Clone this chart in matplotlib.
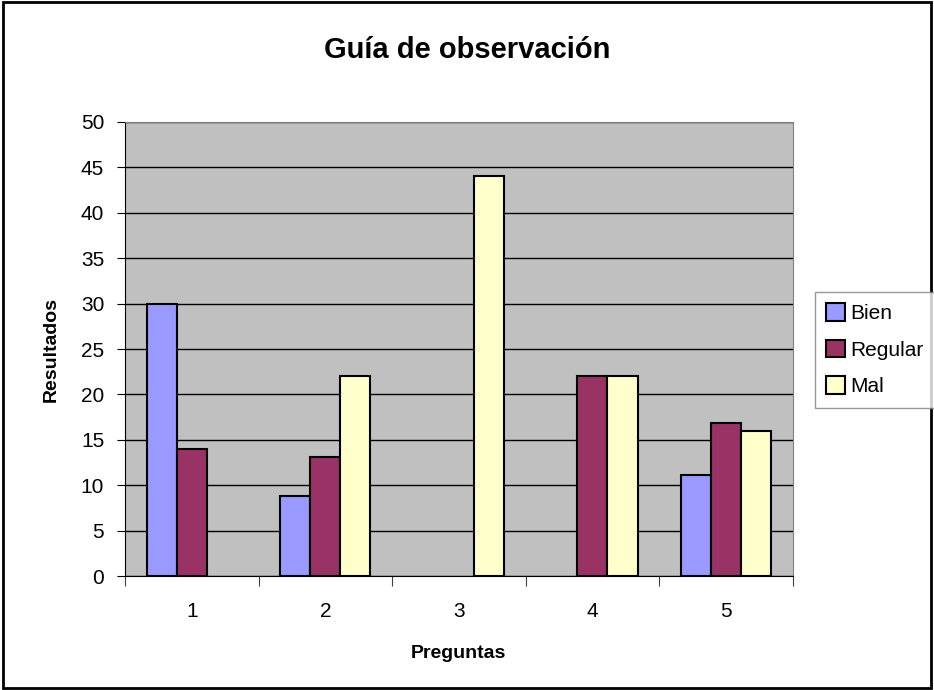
import numpy as np
import matplotlib.pyplot as plt
from matplotlib.patches import Rectangle

# datos
PREGUNTAS = [1, 2, 3, 4, 5]
BIEN = [30, 8.8, 0, 0, 11.1]
REGULAR = [14, 13.1, 0, 22, 16.8]
MAL = [0, 22, 44, 22, 16]

SERIES = ["Bien", "Regular", "Mal"]
COLORES = ["#9999FF", "#993366", "#FFFFCC"]

plt.rcParams["font.family"] = ["Liberation Sans", "DejaVu Sans"]

fig = plt.figure(figsize=(9.34, 6.9), dpi=100)
ax = fig.add_axes([0.1338, 0.1652, 0.715, 0.658])
ax.set_facecolor("#C0C0C0")

x = np.arange(len(PREGUNTAS)) + 1
w = 0.225
for k, (vals, nombre, color) in enumerate(zip([BIEN, REGULAR, MAL], SERIES, COLORES)):
    vals = np.array(vals, dtype=float)
    con_valor = vals > 0          # las barras en cero no se dibujan
    ax.bar(x[con_valor] + (k - 1) * w, vals[con_valor], width=w, color=color,
           edgecolor="black", linewidth=1.5, label=nombre, zorder=3)

ax.set_xlim(0.5, 5.5)
ax.set_ylim(0, 50)
ax.set_yticks(np.arange(0, 51, 5))
ax.yaxis.grid(True, color="black", linewidth=1, zorder=0)
ax.set_axisbelow(True)

# ticks del eje x en los límites de categoría, etiquetas al centro
ax.set_xticks(np.arange(0.5, 5.6, 1))
ax.set_xticklabels([])
ax.set_xticks(x, minor=True)
ax.set_xticklabels([str(p) for p in PREGUNTAS], minor=True)
ax.tick_params(axis="x", which="minor", length=0, pad=19, labelsize=15)
ax.tick_params(axis="x", which="major", length=7, color="#404040")
ax.tick_params(axis="y", length=6, labelsize=15, pad=9)

for lado in ["top", "right"]:
    ax.spines[lado].set_color("#808080")
for lado in ["left", "bottom"]:
    ax.spines[lado].set_color("black")

ax.set_xlabel("Preguntas", fontsize=14, fontweight="bold", labelpad=17)
ax.set_ylabel("Resultados", fontsize=14, fontweight="bold", labelpad=15)
fig.text(0.5, 0.928, "Guía de observación", ha="center", va="center",
         fontsize=21, fontweight="bold")

fig.legend(loc="upper left", bbox_to_anchor=(815 / 934, 1 - 292 / 690),
           frameon=True, fancybox=False, edgecolor="#808080", fontsize=15,
           handlelength=0.9, handleheight=0.9, handletextpad=0.25,
           borderpad=0.55, labelspacing=0.8, borderaxespad=0)

fig.patches.append(Rectangle((0.003, 0.003), 0.994, 0.994, transform=fig.transFigure,
                             fill=False, edgecolor="black", linewidth=2))

fig.savefig("out.png", dpi=100, facecolor="white")
